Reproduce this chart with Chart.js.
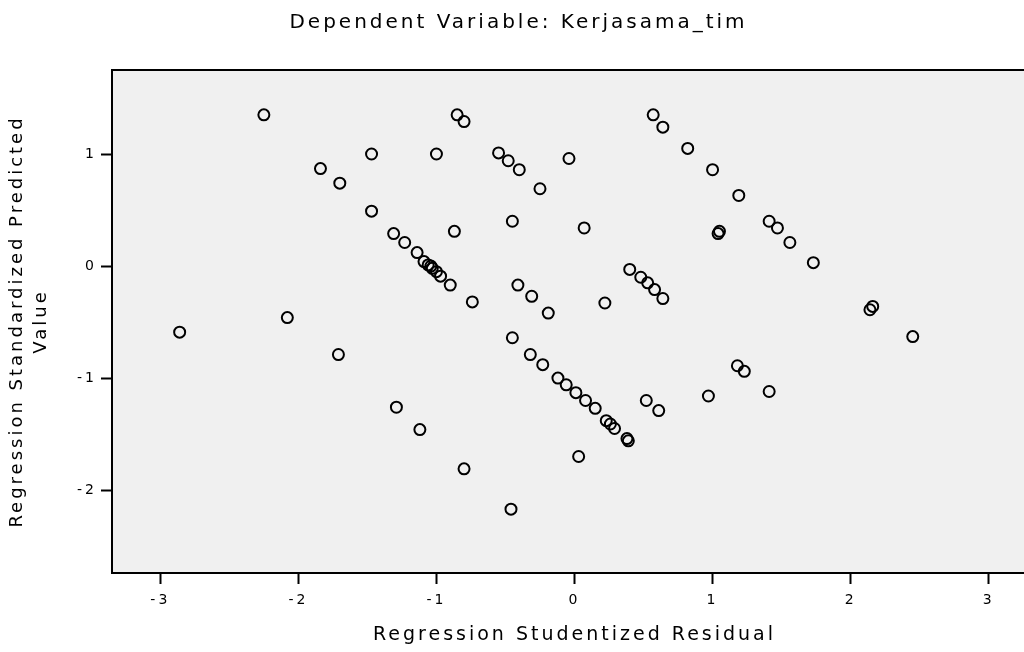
<!DOCTYPE html>
<html><head><meta charset="utf-8">
<script src="https://cdn.jsdelivr.net/npm/chart.js@4/dist/chart.umd.min.js"></script>
<style>html,body{margin:0;padding:0;background:#fff;overflow:hidden}#wrap{width:1024px;height:652px;overflow:hidden}</style>
</head><body><div id="wrap"><canvas id="c" width="1038" height="652"></canvas></div>
<script>
const chartTitle = 'Dependent Variable: Kerjasama_tim';
const xAxisTitle = 'Regression Studentized Residual';
const yAxisTitle = ['Regression Standardized Predicted', 'Value'];
const xTickValues = [-3, -2, -1, 0, 1, 2, 3];
const yTickValues = [-2, -1, 0, 1];

const studentizedResidual = [
 -2.25, -1.84, -1.70, -1.47, -1.47, -1.31, -1.23, -1.14, -1.09, -1.06, -1.04, -1.03, -1.00, -0.97,
 -1.00, -0.85, -0.80, -0.87, -0.90, -0.74,
 -2.86, -2.08, -1.71, -1.29, -1.12, -0.80, -0.46, -0.45,
 -0.55, -0.48, -0.40, -0.25, -0.04, -0.45, 0.07,
 -0.41, -0.31, -0.19,
 -0.32, -0.23, -0.12, -0.06, 0.01, 0.08, 0.15, 0.23, 0.26, 0.29, 0.38, 0.39,
 0.03, 0.22,
 0.40, 0.48, 0.53, 0.58, 0.64,
 0.57, 0.64, 0.82, 1.00, 1.19, 1.04, 1.05, 1.41, 1.47, 1.56, 1.73, 2.14, 2.16, 2.45,
 0.52, 0.61, 0.97, 1.18, 1.23, 1.41
];
const standardizedPredicted = [
 1.35, 0.87, 0.74, 1.00, 0.49, 0.29, 0.21, 0.12, 0.04, 0.01, 0.00, -0.02, -0.05, -0.09,
 1.00, 1.35, 1.29, 0.31, -0.17, -0.32,
 -0.59, -0.46, -0.79, -1.26, -1.46, -1.81, -2.17, -0.64,
 1.01, 0.94, 0.86, 0.69, 0.96, 0.40, 0.34,
 -0.17, -0.27, -0.42,
 -0.79, -0.88, -1.00, -1.06, -1.13, -1.20, -1.27, -1.38, -1.41, -1.45, -1.54, -1.56,
 -1.70, -0.33,
 -0.03, -0.10, -0.15, -0.21, -0.29,
 1.35, 1.24, 1.05, 0.86, 0.63, 0.29, 0.31, 0.40, 0.34, 0.21, 0.03, -0.39, -0.36, -0.63,
 -1.20, -1.29, -1.16, -0.89, -0.94, -1.12
];

const points = studentizedResidual.map((x, i) => ({x: x, y: standardizedPredicted[i]}));
const SPACING = '3px';

const framePlugin = {
  id: 'frame',
  beforeUpdate(chart) { chart.ctx.letterSpacing = SPACING; },
  beforeDraw(chart) {
    const {ctx, chartArea: a} = chart;
    ctx.letterSpacing = SPACING;
    ctx.save();
    ctx.fillStyle = '#f0f0f0';
    ctx.fillRect(a.left, a.top, a.right - a.left, a.bottom - a.top);
    ctx.restore();
  },
  afterDraw(chart) {
    const {ctx, chartArea: a} = chart;
    ctx.save();
    ctx.strokeStyle = '#000';
    ctx.lineWidth = 2;
    ctx.strokeRect(a.left, a.top, a.right - a.left, a.bottom - a.top);
    ctx.restore();
  }
};

const tickFont = {family: 'DejaVu Sans', size: 14};
new Chart(document.getElementById('c'), {
  type: 'scatter',
  data: {datasets: [{
    data: points,
    pointStyle: 'circle',
    pointRadius: 5.5,
    pointHoverRadius: 5.5,
    borderColor: '#000',
    borderWidth: 2,
    backgroundColor: 'rgba(0,0,0,0)'
  }]},
  options: {
    responsive: false,
    animation: false,
    devicePixelRatio: 1,
    layout: {autoPadding: false, padding: {left: 0, right: 1, top: 0, bottom: 0}},
    plugins: {
      legend: {display: false},
      tooltip: {enabled: false},
      title: {
        display: true,
        text: chartTitle,
        color: '#000',
        font: {family: 'DejaVu Sans', size: 20, weight: 'normal', lineHeight: 1.2},
        padding: {top: 11, bottom: 35}
      }
    },
    scales: {
      x: {
        type: 'linear',
        min: -3.35, max: 3.35,
        afterBuildTicks(s) { s.ticks = xTickValues.map(v => ({value: v})); },
        afterFit(s) { s.height = 79; s.paddingLeft = 0; s.paddingRight = 0; },
        grid: {display: true, drawOnChartArea: false, drawTicks: true, tickLength: 11, tickColor: '#000', tickWidth: 2},
        border: {display: true, color: '#000', width: 2},
        ticks: {color: '#000', font: tickFont, padding: 8, maxRotation: 0, autoSkip: false},
        title: {display: true, text: xAxisTitle, color: '#000', font: {family: 'DejaVu Sans', size: 19, lineHeight: 1.2}, padding: {top: 0, bottom: 6}}
      },
      y: {
        type: 'linear',
        min: -2.74, max: 1.75,
        afterBuildTicks(s) { s.ticks = yTickValues.map(v => ({value: v})); },
        afterFit(s) { s.width = 112; },
        grid: {display: true, drawOnChartArea: false, drawTicks: true, tickLength: 11, tickColor: '#000', tickWidth: 2},
        border: {display: true, color: '#000', width: 2},
        ticks: {color: '#000', font: tickFont, padding: 4, autoSkip: false},
        title: {display: true, text: yAxisTitle, color: '#000', font: {family: 'DejaVu Sans', size: 18, lineHeight: 1.3}, padding: {top: 6, bottom: 0}}
      }
    }
  },
  plugins: [framePlugin]
});
</script>
</body></html>
